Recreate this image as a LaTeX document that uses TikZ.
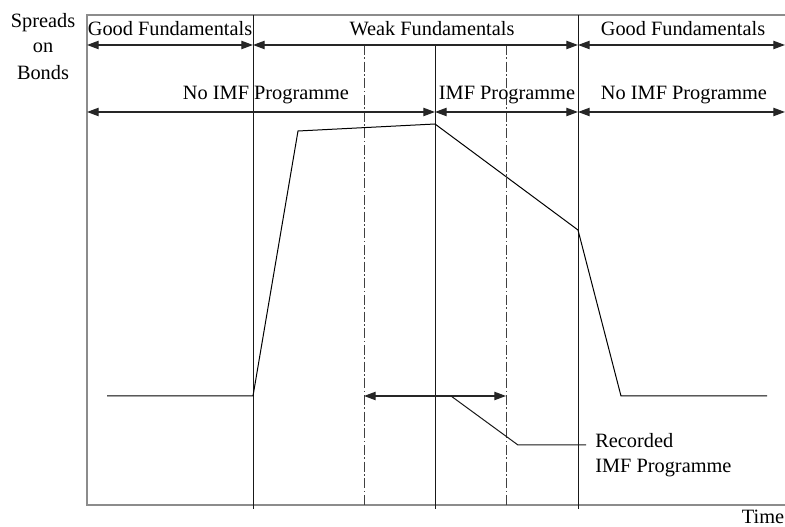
\documentclass[tikz,border=0pt]{standalone}
\usepackage{fontspec}
\setmainfont{Liberation Serif}
\usetikzlibrary{arrows.meta}
\begin{document}
\begin{tikzpicture}[x=0.6pt,y=-0.6pt,
  lbl/.style={anchor=base,inner sep=0pt,font=\fontsize{12.2}{14}\selectfont},
  frame/.style={draw=black!45,line width=0.7pt},
  solid line/.style={draw=black!90,line width=0.6pt},
  dd/.style={draw=black!75,line width=0.45pt,dash pattern=on 6pt off 1.5pt on 1pt off 1.5pt},
  span/.style={draw=black!85,line width=0.75pt,{Triangle[length=7pt,width=5pt]}-{Triangle[length=7pt,width=5pt]}},
  curve/.style={draw=black,line width=0.6pt,line join=miter}]
\useasboundingbox (0,0) rectangle (785,527);
% frame
\draw[frame] (785,15) -- (87,15) -- (87,505) -- (785,505);
% vertical dividers
\coordinate (v1t) at (253,15); \coordinate (v1b) at (253,509);
\coordinate (v2t) at (435,45); \coordinate (v2b) at (435,509);
\coordinate (v3t) at (578,15); \coordinate (v3b) at (578,509);
\draw[solid line] (v1t) -- (v1b);
\draw[solid line] (v2t) -- (v2b);
\draw[solid line] (v3t) -- (v3b);
% dash-dot lines
\coordinate (d1t) at (364,45); \coordinate (d1b) at (364,505);
\coordinate (d2t) at (506,45); \coordinate (d2b) at (506,505);
\draw[dd] (d1t) -- (d1b);
\draw[dd] (d2t) -- (d2b);
% row 1 arrows
\coordinate (r1a) at (87,45); \coordinate (r1b) at (253,45);
\coordinate (r1c) at (578,45); \coordinate (r1d) at (785,45);
\draw[span] (r1a) -- (r1b);
\draw[span] (r1b) -- (r1c);
\draw[span] (r1c) -- (r1d);
% row 2 arrows
\coordinate (r2a) at (87,112); \coordinate (r2b) at (435,112);
\coordinate (r2c) at (578,112); \coordinate (r2d) at (785,112);
\draw[span] (r2a) -- (r2b);
\draw[span] (r2b) -- (r2c);
\draw[span] (r2c) -- (r2d);
% labels
\node[lbl] (gf1) at (170,36) {Good Fundamentals};
\node[lbl] (wf) at (432,36) {Weak Fundamentals};
\node[lbl] (gf2) at (683,36) {Good Fundamentals};
\node[lbl] (ni1) at (266,100) {No IMF Programme};
\node[lbl] (ip) at (507,100) {IMF Programme};
\node[lbl] (ni2) at (684,100) {No IMF Programme};
\node[lbl] (ax1) at (43,28) {Spreads};
\node[lbl] (ax2) at (43,53) {on};
\node[lbl] (ax3) at (43,80) {Bonds};
\node[lbl] (time) at (763,524) {Time};
% spread curve
\coordinate (c1) at (107,396); \coordinate (c2) at (253,396);
\coordinate (c3) at (298,131); \coordinate (c4) at (435,124);
\coordinate (c5) at (578,230); \coordinate (c6) at (621,396);
\coordinate (c7) at (767,396);
\draw[curve] (c1) -- (c2) -- (c3) -- (c4) -- (c5) -- (c6) -- (c7);
% recorded programme
\coordinate (ra) at (364,396); \coordinate (rb) at (506,396);
\draw[span] (ra) -- (rb);
\coordinate (l1) at (451,396); \coordinate (l2) at (518,445); \coordinate (l3) at (586,445);
\draw[solid line] (l1) -- (l2) -- (l3);
\node[lbl,anchor=base west] (rec1) at (595,448) {Recorded};
\node[lbl,anchor=base west] (rec2) at (595,473) {IMF Programme};
\end{tikzpicture}
\end{document}
